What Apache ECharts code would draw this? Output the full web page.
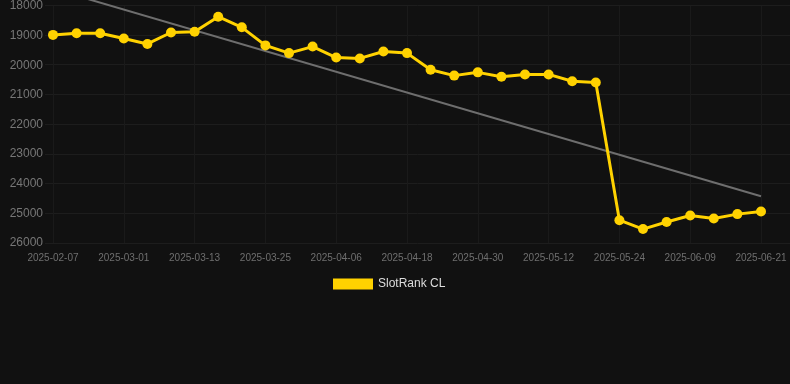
<!DOCTYPE html>
<html>
<head>
<meta charset="utf-8">
<script src="https://cdn.jsdelivr.net/npm/echarts@6/dist/echarts.min.js"></script>
<style>
html,body{margin:0;padding:0;background:#111111;}
#chart{width:790px;height:384px;}
</style>
</head>
<body>
<div id="chart"></div>
<script>
var categories = ['2025-02-07','2025-02-15','2025-02-22','2025-03-01','2025-03-05','2025-03-09','2025-03-13','2025-03-17','2025-03-21','2025-03-25','2025-03-29','2025-04-02','2025-04-06','2025-04-10','2025-04-14','2025-04-18','2025-04-22','2025-04-26','2025-04-30','2025-05-04','2025-05-08','2025-05-12','2025-05-16','2025-05-20','2025-05-24','2025-05-29','2025-06-04','2025-06-09','2025-06-13','2025-06-17','2025-06-21'];
var rankValues = [18975,18920,18920,19100,19280,18895,18870,18360,18720,19330,19590,19370,19740,19770,19535,19590,20150,20350,20240,20390,20310,20310,20540,20580,25230,25530,25290,25070,25170,25025,24935];
var trendStart = 17420;
var trendEnd = 24420;
var yTicks = {min:18000, max:26000, interval:1000};
var seriesName = 'SlotRank CL';

var trendData = categories.map(function(c,i){
  if(i===0) return trendStart;
  if(i===categories.length-1) return trendEnd;
  return null;
});

var chart = echarts.init(document.getElementById('chart'));
chart.setOption({
  backgroundColor:'#111111',
  animation:false,
  legend:{
    data:[{name:seriesName,icon:'rect'}],
    top:273,
    left:328,
    itemWidth:40,
    itemHeight:11,
    itemGap:10,
    textStyle:{color:'#dddddd',fontSize:12,fontFamily:'Liberation Sans, Arial, sans-serif'}
  },
  grid:[
    {left:53,right:29,top:5,bottom:141,containLabel:false},
    {left:45,right:0,top:5,bottom:141,containLabel:false}
  ],
  xAxis:[
    {
      type:'category',gridIndex:0,data:categories,boundaryGap:false,
      axisLine:{show:false},
      axisTick:{show:false},
      axisLabel:{interval:2,color:'#6f6f6f',fontSize:10,margin:10,fontFamily:'Liberation Sans, Arial, sans-serif'},
      splitLine:{show:true,interval:2,lineStyle:{color:'#1a1a1a',width:1}}
    },
    {type:'category',gridIndex:1,data:categories,show:false}
  ],
  yAxis:[
    {
      type:'value',gridIndex:0,inverse:true,min:yTicks.min,max:yTicks.max,interval:yTicks.interval,
      axisLine:{show:false},axisTick:{show:false},
      axisLabel:{color:'#777777',fontSize:12,margin:10,fontFamily:'Liberation Sans, Arial, sans-serif',
        formatter:function(v){return String(v);}},
      splitLine:{show:false}
    },
    {
      type:'value',gridIndex:1,inverse:true,min:yTicks.min,max:yTicks.max,interval:yTicks.interval,
      axisLine:{show:false},axisTick:{show:false},axisLabel:{show:false},
      splitLine:{show:true,lineStyle:{color:'#1d1d1d',width:1}}
    }
  ],
  series:[
    {
      name:'trend',type:'line',xAxisIndex:0,yAxisIndex:0,data:trendData,connectNulls:true,
      showSymbol:false,symbol:'none',clip:false,silent:true,
      lineStyle:{color:'#6e6e6e',width:2},z:1
    },
    {
      name:seriesName,type:'line',xAxisIndex:0,yAxisIndex:0,data:rankValues,
      symbol:'circle',symbolSize:10,showSymbol:true,
      itemStyle:{color:'#FFD200'},
      lineStyle:{color:'#FFD200',width:3},z:3
    }
  ]
});
</script>
</body>
</html>
